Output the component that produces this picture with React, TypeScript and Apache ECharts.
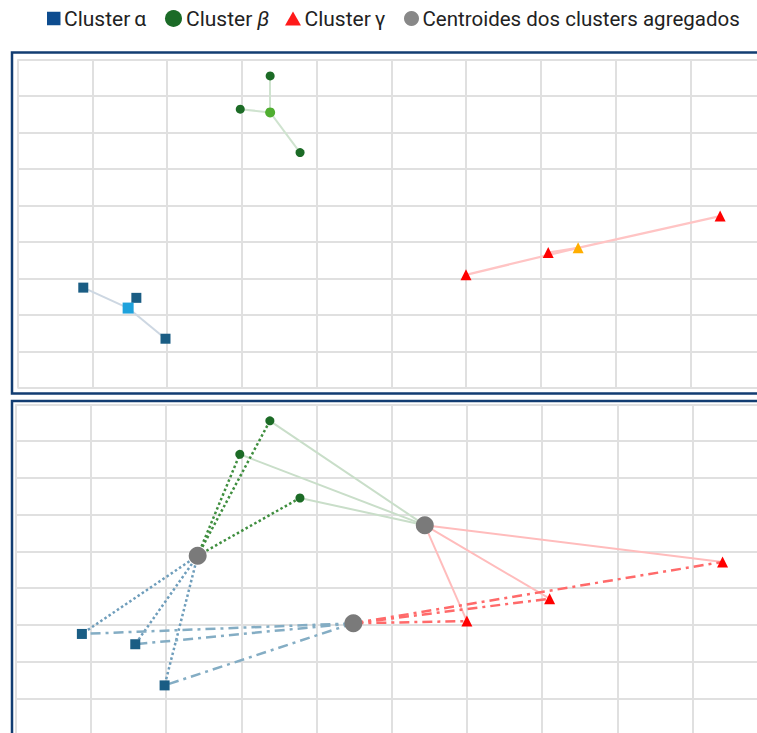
import React, { useEffect, useRef } from "react";
import * as echarts from "echarts";

// Member points of each cluster (x, y)
const alphaPoints = [[0.88, 2.75], [1.59, 2.47], [1.98, 1.35]];
const betaPoints = [[3.38, 8.55], [2.98, 7.64], [3.78, 6.45]];
const gammaPoints = [[6.0, 3.1], [7.1, 3.71], [9.4, 4.71]];

// Centroid of each individual cluster
const alphaCentroid = [1.48, 2.19];
const betaCentroid = [3.38, 7.55];
const gammaCentroid = [7.5, 3.84];

// Centroids of the merged cluster pairs
const alphaBetaCentroid = [2.42, 4.88];
const betaGammaCentroid = [5.44, 5.71];
const alphaGammaCentroid = [4.49, 3.04];

const names = {
  alpha: "Cluster α",
  beta: "Cluster β",
  gamma: "Cluster γ",
  merged: "Centroides dos clusters agregados",
};

const xRange = [0, 10];
const yRange = [0, 9];

const spokes = (center: number[], pts: number[][]) =>
  pts.map((p) => ({ coords: [center, p] }));

const spokeSeries = (
  panel: number,
  center: number[],
  pts: number[][],
  color: string,
  width: number,
  type: any
) => ({
  type: "lines",
  name: "spokes",
  coordinateSystem: "cartesian2d",
  xAxisIndex: panel,
  yAxisIndex: panel,
  polyline: false,
  silent: true,
  z: 2,
  lineStyle: { color, width, type, opacity: 1, cap: "butt" },
  data: spokes(center, pts),
});

const pointSeries = (
  panel: number,
  name: string,
  data: number[][],
  symbol: string,
  size: number,
  color: string,
  z = 3
) => ({
  type: "scatter",
  name,
  xAxisIndex: panel,
  yAxisIndex: panel,
  symbol,
  symbolSize: size,
  silent: true,
  z,
  itemStyle: { color, opacity: 1 },
  data,
});

const DOT = [2.5, 2.5];
const DASH_DOT = [10, 5, 3, 5];

const FONT = "Roboto, 'Liberation Sans', sans-serif";

// One legend box per entry so each marker keeps its own size
const legendItem = (
  name: string,
  icon: string,
  color: string,
  left: number,
  w: number,
  h: number,
  fontSize: number
) => ({
  top: 3,
  left,
  itemWidth: w,
  itemHeight: h,
  selectedMode: false,
  textStyle: {
    fontFamily: FONT,
    fontSize,
    color: "#222222",
    padding: [0, 0, 0, -1.5],
    rich: {
      g: { fontFamily: FONT, fontSize, color: "#222222", padding: [0, 0, 0, 4] },
      i: {
        fontFamily: FONT,
        fontSize,
        fontStyle: "italic",
        color: "#222222",
        padding: [0, 0, 0, 5],
      },
    },
  },
  formatter: (n: string) => {
    if (n === names.beta) return "Cluster{i|β}";
    if (n === names.alpha) return "Cluster{g|α}";
    if (n === names.gamma) return "Cluster{g|γ}";
    return n;
  },
  data: [{ name, icon, itemStyle: { color } }],
});

export default function App() {
  const ref = useRef<HTMLDivElement>(null);

  useEffect(() => {
    if (!ref.current) return;
    const chart = echarts.init(ref.current, undefined, { renderer: "svg" });

    const axisCommon = {
      type: "value",
      axisLine: { show: false },
      axisTick: { show: false },
      axisLabel: { show: false },
      splitLine: { show: true, lineStyle: { color: "#e0e0e0", width: 2 } },
    };

    chart.setOption({
      animation: false,
      backgroundColor: "#ffffff",
      textStyle: { fontFamily: FONT },
      legend: [
        legendItem(names.alpha, "rect", "#0d4c8f", 42, 13.5, 13.5, 21),
        legendItem(names.beta, "circle", "#1b6b27", 160, 18, 17, 21),
        legendItem(names.gamma, "triangle", "#ff1a1a", 280, 16, 14, 21),
        legendItem(names.merged, "circle", "#888888", 399, 15, 15, 20.5),
      ],
      graphic: [
        {
          type: "rect",
          silent: true,
          shape: { x: 12, y: 52.5, width: 820, height: 341 },
          style: { fill: "none", stroke: "#123d72", lineWidth: 2.5 },
          z: 10,
        },
        {
          type: "rect",
          silent: true,
          shape: { x: 12, y: 401, width: 820, height: 420 },
          style: { fill: "none", stroke: "#123d72", lineWidth: 2.5 },
          z: 10,
        },
      ],
      grid: [
        { left: 17.5, top: 59.5, width: 747.5, height: 328.5 },
        { left: 15.7, top: 404.3, width: 752, height: 330.7 },
      ],
      xAxis: [
        { ...axisCommon, gridIndex: 0, min: xRange[0], max: xRange[1], interval: 1 },
        { ...axisCommon, gridIndex: 1, min: xRange[0], max: xRange[1], interval: 1 },
      ],
      yAxis: [
        { ...axisCommon, gridIndex: 0, min: yRange[0], max: yRange[1], interval: 1 },
        { ...axisCommon, gridIndex: 1, min: yRange[0], max: yRange[1], interval: 1 },
      ],
      series: [
        // Upper panel: each cluster with its own centroid
        spokeSeries(0, alphaCentroid, alphaPoints, "#cdd7e2", 2, "solid"),
        spokeSeries(0, betaCentroid, betaPoints, "#cfe3cf", 2, "solid"),
        spokeSeries(0, gammaCentroid, gammaPoints, "#ffc4c4", 2.2, "solid"),
        pointSeries(0, names.alpha, alphaPoints, "rect", 10, "#1a5d84"),
        pointSeries(0, names.beta, betaPoints, "circle", 9, "#1c6b26"),
        pointSeries(0, names.gamma, gammaPoints, "triangle", 11, "#ff0000"),
        pointSeries(0, "centroid α", [alphaCentroid], "rect", 11, "#1ea2dc", 4),
        pointSeries(0, "centroid β", [betaCentroid], "circle", 10, "#4fae30", 4),
        pointSeries(0, "centroid γ", [gammaCentroid], "triangle", 11, "#ffae00", 4),

        // Lower panel: distances to the merged-pair centroids
        spokeSeries(1, betaGammaCentroid, betaPoints, "#c9dec9", 2, "solid"),
        spokeSeries(1, betaGammaCentroid, gammaPoints, "#ffbcbc", 2, "solid"),
        spokeSeries(1, alphaBetaCentroid, betaPoints, "#3f8e3f", 2.5, DOT),
        spokeSeries(1, alphaBetaCentroid, alphaPoints, "#6e9dbb", 2.5, DOT),
        spokeSeries(1, alphaGammaCentroid, alphaPoints, "#84adc4", 2.5, DASH_DOT),
        spokeSeries(1, alphaGammaCentroid, gammaPoints, "#ff6a6a", 2.5, DASH_DOT),
        pointSeries(1, names.alpha, alphaPoints, "rect", 10, "#1a5d84"),
        pointSeries(1, names.beta, betaPoints, "circle", 9, "#1c6b26"),
        pointSeries(1, names.gamma, gammaPoints, "triangle", 11, "#ff0000"),
        pointSeries(
          1,
          names.merged,
          [alphaBetaCentroid, betaGammaCentroid, alphaGammaCentroid],
          "circle",
          18,
          "#7a7a7a",
          4
        ),
      ],
    });

    return () => chart.dispose();
  }, []);

  return (
    <div
      style={{
        position: "fixed",
        left: 0,
        top: 0,
        width: 757,
        height: 733,
        overflow: "hidden",
        background: "#ffffff",
      }}
    >
      <div ref={ref} style={{ width: 820, height: 780 }} />
    </div>
  );
}
